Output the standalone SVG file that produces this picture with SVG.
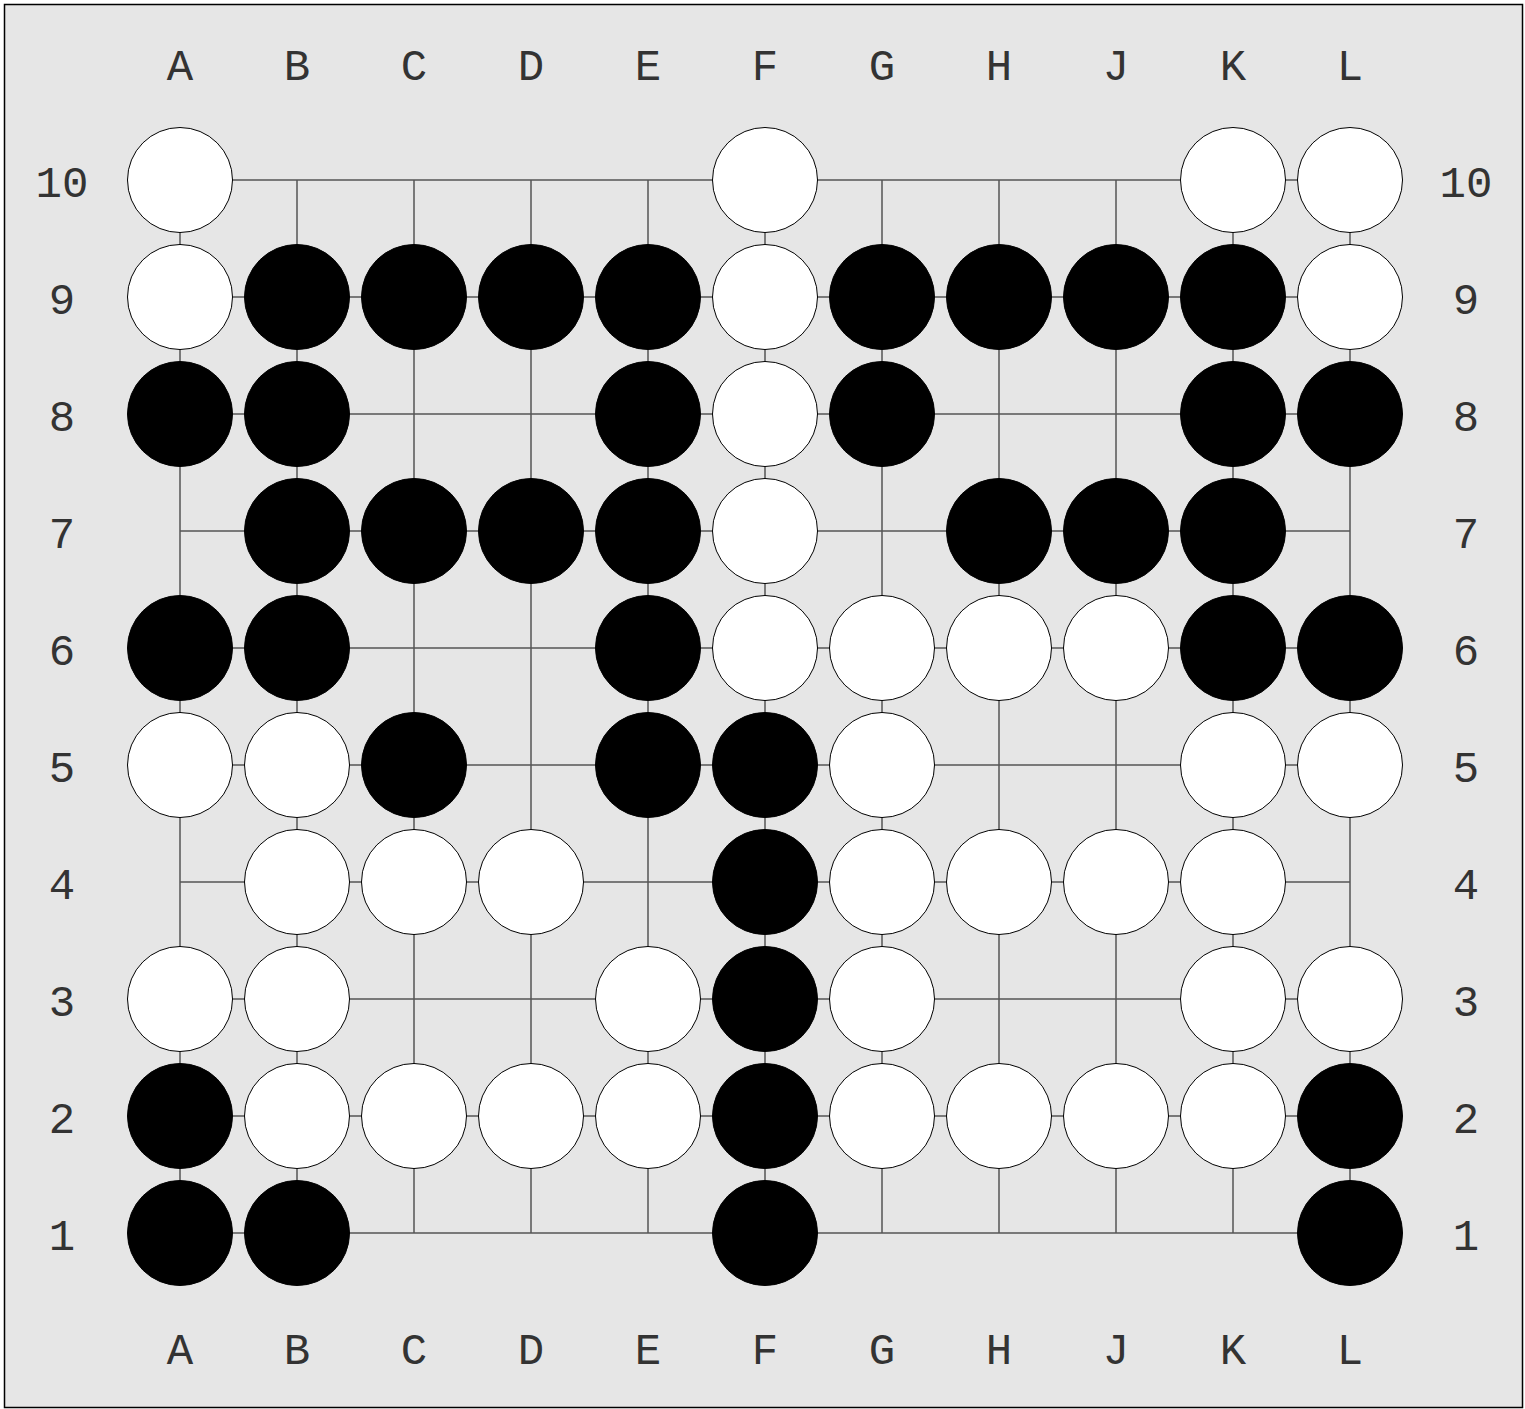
<svg xmlns="http://www.w3.org/2000/svg" width="1525" height="1409" viewBox="0 0 1525 1409">
<style>
.bg{fill:#e6e6e6;stroke:#000;stroke-width:1.5}
.ln{stroke:#555;stroke-width:1.5;fill:none}
.w{fill:#fff;stroke:#000;stroke-width:1}
.b{fill:#000;stroke:#000;stroke-width:1}
text{font-family:"Liberation Mono","Courier New",monospace;font-size:44px;fill:#333;text-anchor:middle}
</style>
<rect class="bg" x="4.5" y="4.5" width="1518" height="1403"/>
<g id="labels">
<text x="180" y="80">A</text><text x="297" y="80">B</text><text x="414" y="80">C</text><text x="531" y="80">D</text><text x="648" y="80">E</text><text x="765" y="80">F</text><text x="882" y="80">G</text><text x="999" y="80">H</text><text x="1116" y="80">J</text><text x="1233" y="80">K</text><text x="1350" y="80">L</text>
<text x="180" y="1364">A</text><text x="297" y="1364">B</text><text x="414" y="1364">C</text><text x="531" y="1364">D</text><text x="648" y="1364">E</text><text x="765" y="1364">F</text><text x="882" y="1364">G</text><text x="999" y="1364">H</text><text x="1116" y="1364">J</text><text x="1233" y="1364">K</text><text x="1350" y="1364">L</text>
<text x="62" y="197">10</text><text x="62" y="314">9</text><text x="62" y="431">8</text><text x="62" y="548">7</text><text x="62" y="665">6</text><text x="62" y="782">5</text><text x="62" y="899">4</text><text x="62" y="1016">3</text><text x="62" y="1133">2</text><text x="62" y="1250">1</text>
<text x="1466" y="197">10</text><text x="1466" y="314">9</text><text x="1466" y="431">8</text><text x="1466" y="548">7</text><text x="1466" y="665">6</text><text x="1466" y="782">5</text><text x="1466" y="899">4</text><text x="1466" y="1016">3</text><text x="1466" y="1133">2</text><text x="1466" y="1250">1</text>
</g>
<g id="grid">
<path class="ln" d="M180 180H1350M180 297H1350M180 414H1350M180 531H1350M180 648H1350M180 765H1350M180 882H1350M180 999H1350M180 1116H1350M180 1233H1350"/>
<path class="ln" d="M180 180V1233M297 180V1233M414 180V1233M531 180V1233M648 180V1233M765 180V1233M882 180V1233M999 180V1233M1116 180V1233M1233 180V1233M1350 180V1233"/>
</g>
<g id="stones">
<!-- row 10 -->
<circle class="w" cx="180" cy="180" r="52.5"/><circle class="w" cx="765" cy="180" r="52.5"/><circle class="w" cx="1233" cy="180" r="52.5"/><circle class="w" cx="1350" cy="180" r="52.5"/>
<!-- row 9 -->
<circle class="w" cx="180" cy="297" r="52.5"/><circle class="b" cx="297" cy="297" r="52.5"/><circle class="b" cx="414" cy="297" r="52.5"/><circle class="b" cx="531" cy="297" r="52.5"/><circle class="b" cx="648" cy="297" r="52.5"/><circle class="w" cx="765" cy="297" r="52.5"/><circle class="b" cx="882" cy="297" r="52.5"/><circle class="b" cx="999" cy="297" r="52.5"/><circle class="b" cx="1116" cy="297" r="52.5"/><circle class="b" cx="1233" cy="297" r="52.5"/><circle class="w" cx="1350" cy="297" r="52.5"/>
<!-- row 8 -->
<circle class="b" cx="180" cy="414" r="52.5"/><circle class="b" cx="297" cy="414" r="52.5"/><circle class="b" cx="648" cy="414" r="52.5"/><circle class="w" cx="765" cy="414" r="52.5"/><circle class="b" cx="882" cy="414" r="52.5"/><circle class="b" cx="1233" cy="414" r="52.5"/><circle class="b" cx="1350" cy="414" r="52.5"/>
<!-- row 7 -->
<circle class="b" cx="297" cy="531" r="52.5"/><circle class="b" cx="414" cy="531" r="52.5"/><circle class="b" cx="531" cy="531" r="52.5"/><circle class="b" cx="648" cy="531" r="52.5"/><circle class="w" cx="765" cy="531" r="52.5"/><circle class="b" cx="999" cy="531" r="52.5"/><circle class="b" cx="1116" cy="531" r="52.5"/><circle class="b" cx="1233" cy="531" r="52.5"/>
<!-- row 6 -->
<circle class="b" cx="180" cy="648" r="52.5"/><circle class="b" cx="297" cy="648" r="52.5"/><circle class="b" cx="648" cy="648" r="52.5"/><circle class="w" cx="765" cy="648" r="52.5"/><circle class="w" cx="882" cy="648" r="52.5"/><circle class="w" cx="999" cy="648" r="52.5"/><circle class="w" cx="1116" cy="648" r="52.5"/><circle class="b" cx="1233" cy="648" r="52.5"/><circle class="b" cx="1350" cy="648" r="52.5"/>
<!-- row 5 -->
<circle class="w" cx="180" cy="765" r="52.5"/><circle class="w" cx="297" cy="765" r="52.5"/><circle class="b" cx="414" cy="765" r="52.5"/><circle class="b" cx="648" cy="765" r="52.5"/><circle class="b" cx="765" cy="765" r="52.5"/><circle class="w" cx="882" cy="765" r="52.5"/><circle class="w" cx="1233" cy="765" r="52.5"/><circle class="w" cx="1350" cy="765" r="52.5"/>
<!-- row 4 -->
<circle class="w" cx="297" cy="882" r="52.5"/><circle class="w" cx="414" cy="882" r="52.5"/><circle class="w" cx="531" cy="882" r="52.5"/><circle class="b" cx="765" cy="882" r="52.5"/><circle class="w" cx="882" cy="882" r="52.5"/><circle class="w" cx="999" cy="882" r="52.5"/><circle class="w" cx="1116" cy="882" r="52.5"/><circle class="w" cx="1233" cy="882" r="52.5"/>
<!-- row 3 -->
<circle class="w" cx="180" cy="999" r="52.5"/><circle class="w" cx="297" cy="999" r="52.5"/><circle class="w" cx="648" cy="999" r="52.5"/><circle class="b" cx="765" cy="999" r="52.5"/><circle class="w" cx="882" cy="999" r="52.5"/><circle class="w" cx="1233" cy="999" r="52.5"/><circle class="w" cx="1350" cy="999" r="52.5"/>
<!-- row 2 -->
<circle class="b" cx="180" cy="1116" r="52.5"/><circle class="w" cx="297" cy="1116" r="52.5"/><circle class="w" cx="414" cy="1116" r="52.5"/><circle class="w" cx="531" cy="1116" r="52.5"/><circle class="w" cx="648" cy="1116" r="52.5"/><circle class="b" cx="765" cy="1116" r="52.5"/><circle class="w" cx="882" cy="1116" r="52.5"/><circle class="w" cx="999" cy="1116" r="52.5"/><circle class="w" cx="1116" cy="1116" r="52.5"/><circle class="w" cx="1233" cy="1116" r="52.5"/><circle class="b" cx="1350" cy="1116" r="52.5"/>
<!-- row 1 -->
<circle class="b" cx="180" cy="1233" r="52.5"/><circle class="b" cx="297" cy="1233" r="52.5"/><circle class="b" cx="765" cy="1233" r="52.5"/><circle class="b" cx="1350" cy="1233" r="52.5"/>
</g>
</svg>
